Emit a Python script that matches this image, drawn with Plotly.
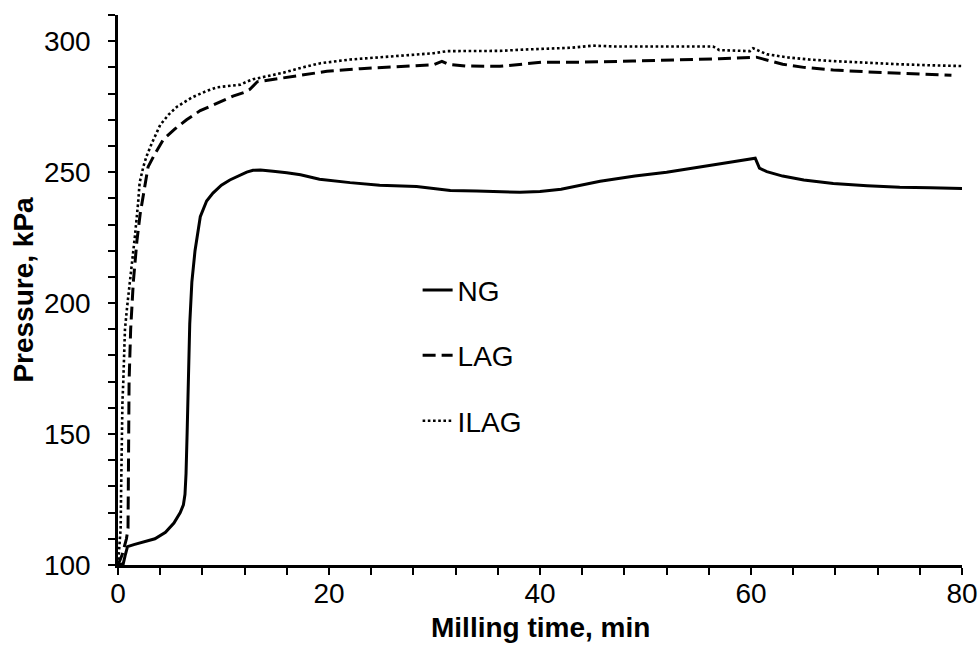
import plotly.graph_objects as go

# Milling time (min) and vessel pressure (kPa) for the three grinding modes
ng_time = [0, 0.5, 0.7, 0.9, 1.5, 2.5, 3.5, 4.5, 5.3, 5.9, 6.2, 6.35, 6.45, 6.55, 6.65,
           6.8, 7.0, 7.3, 7.8, 8.4, 9.0, 9.8, 10.6, 11.5, 12.2, 12.8, 13.5, 14.7, 16,
           17.3, 19.1, 22, 24.8, 28.3, 31.5, 34, 36.2, 38.1, 40, 42, 45.7, 49, 52, 55,
           58, 60.4, 60.6, 60.8, 61.5, 63, 65, 67.8, 71, 74.1, 77, 80]
ng_pressure = [100, 100.5, 104, 107, 107.8, 108.8, 110, 112.5, 116, 120, 123, 127, 135,
               150, 170, 192, 208, 220, 233, 239, 242, 245, 247, 248.8, 250, 250.7,
               250.8, 250.3, 249.8, 249, 247.3, 246, 245, 244.5, 243, 242.8, 242.5,
               242.3, 242.6, 243.5, 246.5, 248.5, 250, 252, 253.8, 255.3, 253, 251.5,
               250.2, 248.5, 247, 245.7, 244.8, 244.2, 244, 243.8]

lag_time = [0, 0.4, 0.8, 0.95, 1.05, 1.2, 1.45, 1.8, 2.1, 2.4, 2.7, 2.85, 3.5, 4.3, 5.4,
            6.5, 7.8, 9.4, 10.9, 12.0, 12.5, 13.2, 14.5, 16, 18, 19.8, 23, 26.7, 29.9,
            30.7, 31.3, 33, 36.2, 40.3, 44, 48.8, 53, 57, 60.5, 61.5, 63, 65, 67.8, 71,
            75, 79]
lag_pressure = [100, 104, 110, 114, 170, 190, 208, 224, 234, 241, 248, 252, 257, 262.5,
                266.5, 270, 273.5, 276.5, 279, 280.5, 281.6, 284.5, 285.3, 286, 287.5,
                288.5, 289.5, 290.4, 291, 292.3, 291.2, 290.5, 290.4, 292, 292, 292.4,
                292.8, 293.3, 293.9, 292.8, 291.2, 290, 289, 288.3, 287.6, 287]

ilag_time = [0, 0.15, 0.25, 0.3, 0.35, 0.42, 0.5, 0.66, 0.85, 1.14, 1.4, 1.6, 1.9, 2.05,
             2.4, 2.7, 3.2, 4, 4.8, 5.6, 7, 8.4, 9.4, 10.5, 11.6, 12.3, 12.8, 14, 15.7,
             17.5, 19.2, 22, 25.1, 28, 29.9, 31.2, 33.5, 36.2, 38.5, 41, 43, 45, 47,
             49.5, 53, 56.4, 57, 58.5, 59.9, 60.2, 61.5, 63.5, 65.5, 67.8, 71, 74, 77, 80]
ilag_pressure = [100, 108, 114, 130, 150, 162, 170, 190, 198, 208, 218, 225.4, 238, 246,
                 252, 256, 261, 268, 272, 275, 278.5, 281, 282.4, 282.8, 283.4, 284.7,
                 285.5, 286.5, 288, 290, 291.6, 293, 294, 295, 295.4, 296.2, 296.2, 296.3,
                 296.8, 297.3, 297.5, 298.3, 298, 298, 298, 298, 296.6, 296.4, 296.2,
                 297.3, 295, 293.8, 293, 292.4, 291.7, 291.2, 290.8, 290.5]

# Tick positions: every 4 min / 10 kPa, labelled every 20 min / 50 kPa
x_ticks = list(range(0, 81, 4))
x_labels = [str(v) if v % 20 == 0 else "" for v in x_ticks]
y_ticks = list(range(100, 311, 10))
y_labels = [str(v) if v % 50 == 0 else "" for v in y_ticks]

series = [
    ("NG", ng_time, ng_pressure, dict(color="black", width=3, dash="solid")),
    ("LAG", lag_time, lag_pressure, dict(color="black", width=3, dash="13px,6px")),
    ("ILAG", ilag_time, ilag_pressure, dict(color="black", width=2.6, dash="2.6px,2.6px")),
]

FONT = "Liberation Sans, Arial, Helvetica, sans-serif"

fig = go.Figure()
for i, (name, t, p, line) in enumerate(series):
    fig.add_trace(go.Scatter(
        x=t, y=p, mode="lines", name=name, line=line,
        legendgroup=f"g{i}",
    ))

axis_common = dict(
    showline=True, linecolor="black", linewidth=2.5,
    ticks="outside", ticklen=7, tickwidth=2.2, tickcolor="black",
    showgrid=False, zeroline=False, automargin=False,
    tickmode="array",
    tickfont=dict(family=FONT, size=28, color="black"),
    title_font=dict(family=FONT, size=28, color="black"),
)

fig.update_xaxes(
    range=[0, 80], tickvals=x_ticks, ticktext=x_labels,
    ticklabelstandoff=-5,
    **axis_common,
)
fig.update_yaxes(
    range=[100, 310], tickvals=y_ticks, ticktext=y_labels,
    title_text="<b>Pressure, kPa</b>", title_standoff=3,
    ticklabelstandoff=12,
    **axis_common,
)

fig.add_annotation(
    text="<b>Milling time, min</b>", xref="paper", yref="paper",
    x=0.5, y=-0.1145, xanchor="center", yanchor="middle", showarrow=False,
    font=dict(family=FONT, size=28, color="black"),
)

fig.update_layout(
    width=979, height=646,
    margin=dict(l=118, r=17, t=15, b=81),
    paper_bgcolor="white", plot_bgcolor="white",
    showlegend=True,
    legend=dict(
        x=0.355, y=0.545, xanchor="left", yanchor="top",
        font=dict(family=FONT, size=28, color="black"),
        bgcolor="rgba(0,0,0,0)", tracegroupgap=26,
        traceorder="grouped",
    ),
)

fig.write_html("out.html")
